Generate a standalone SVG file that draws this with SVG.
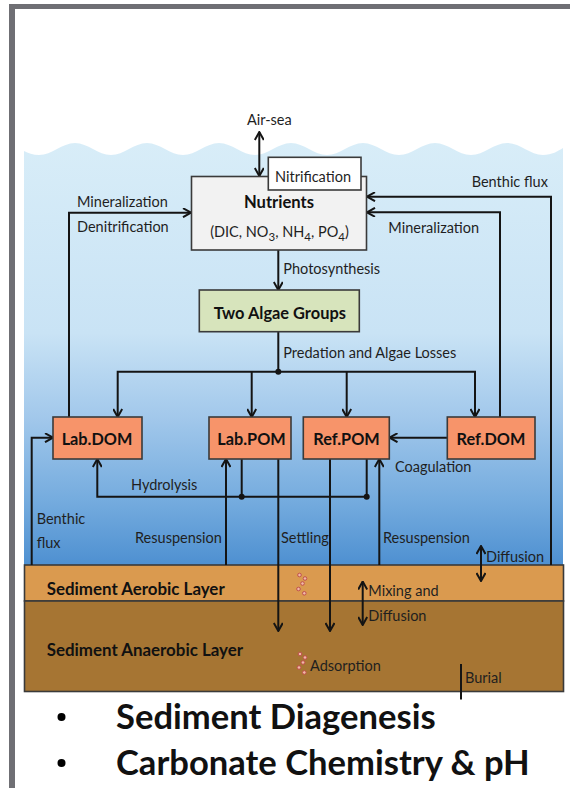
<svg xmlns="http://www.w3.org/2000/svg" width="570" height="788" viewBox="0 0 570 788">
<style>
.lbl{font-family:Lato,"Open Sans","Liberation Sans",sans-serif;font-size:14.5px;fill:#1f1f1f}
.bold{font-family:Lato,"Open Sans","Liberation Sans",sans-serif;font-weight:bold;fill:#111}
.box{stroke:#3a3a3a;stroke-width:1.6}
.pool{fill:#f7946a}
.ln{fill:none;stroke:#141414;stroke-width:2}
.arr{marker-end:url(#ah)}
.dbl{marker-start:url(#ah);marker-end:url(#ah)}
.dot{fill:#141414}
.grain{fill:#f0b8a8;stroke:#c0504d;stroke-width:1}
</style>
<defs>
<linearGradient id="water" gradientUnits="userSpaceOnUse" x1="0" y1="143" x2="0" y2="565">
<stop offset="0" stop-color="#d8edf8"/>
<stop offset="0.45" stop-color="#c9e3f5"/>
<stop offset="0.65" stop-color="#a2c8eb"/>
<stop offset="0.85" stop-color="#74abde"/>
<stop offset="1" stop-color="#4e90d1"/>
</linearGradient>
<marker id="ah" viewBox="0 0 10 10" refX="9" refY="5" markerWidth="10" markerHeight="10" markerUnits="userSpaceOnUse" orient="auto-start-reverse">
<path d="M1,0.5 L9,5 L1,9.5" fill="none" stroke="#141414" stroke-width="2"/>
</marker>
</defs>

<rect x="0" y="0" width="570" height="788" fill="#ffffff"/>
<g id="frame">
<rect x="9" y="4" width="561" height="5" fill="#6f6f74"/>
<rect x="9" y="4" width="6" height="784" fill="#6f6f74"/>
</g>

<g id="water-body">
<path d="M24,151 C28,153 33,155 39,155 C52,155 62,143 75,143 C88,143 98,155 111,155 C124,155 134,143 147,143 C160,143 170,155 183,155 C196,155 206,143 219,143 C232,143 242,155 255,155 C268,155 278,143 291,143 C304,143 314,155 327,155 C340,155 350,143 363,143 C376,143 386,155 399,155 C412,155 422,143 435,143 C448,143 458,155 471,155 C484,155 494,143 507,143 C520,143 530,155 543,155 C552,155 558,151 563,148 L563,565 L24,565 Z" fill="url(#water)"/>
</g>

<g id="sediment-aerobic">
<rect x="24.5" y="565" width="539" height="36" fill="#da9a4f" class="box"/>
<text class="bold" x="46.7" y="595" font-size="16.9">Sediment Aerobic Layer</text>
</g>
<g id="sediment-anaerobic">
<rect x="24.5" y="601" width="539" height="90.5" fill="#a67533" class="box"/>
<text class="bold" x="46.7" y="656" font-size="16.9">Sediment Anaerobic Layer</text>
</g>

<g id="grains">
<circle class="grain" cx="299.5" cy="575" r="1.8"/>
<circle class="grain" cx="305" cy="578.5" r="1.8"/>
<circle class="grain" cx="302.5" cy="583.5" r="1.8"/>
<circle class="grain" cx="298.5" cy="589" r="1.8"/>
<circle class="grain" cx="304.3" cy="593.3" r="1.8"/>
<circle class="grain" cx="300" cy="654" r="1.8"/>
<circle class="grain" cx="305" cy="657.5" r="1.8"/>
<circle class="grain" cx="303" cy="662.5" r="1.8"/>
<circle class="grain" cx="299" cy="667.5" r="1.8"/>
<circle class="grain" cx="304.3" cy="672.5" r="1.8"/>
</g>

<g id="connectors">
<path class="ln dbl" d="M259.3,132 V176"/>
<path class="ln arr" d="M69,417 V212.7 H191"/>
<path class="ln arr" d="M500,417 V212.3 H367"/>
<path class="ln arr" d="M551,565 V196.7 H367"/>
<path class="ln arr" d="M278.3,250 V290"/>
<path class="ln" d="M278.3,331.7 V371.7"/>
<path class="ln dbl" d="M117.7,417 V371.7 H475 V417"/>
<path class="ln arr" d="M251.7,371.7 V417"/>
<path class="ln arr" d="M346.7,371.7 V417"/>
<circle class="dot" cx="278.3" cy="371.7" r="3"/>
<path class="ln arr" d="M447.3,437.7 H389.5"/>
<path class="ln arr" d="M31.7,565 V437.7 H53"/>
<path class="ln" d="M241.7,459 V496.7"/>
<path class="ln" d="M366.7,459 V496.7"/>
<path class="ln arr" d="M366.7,496.7 H97.3 V459"/>
<circle class="dot" cx="241.7" cy="496.7" r="3"/>
<circle class="dot" cx="366.7" cy="496.7" r="3"/>
<path class="ln arr" d="M226,565 V459"/>
<path class="ln arr" d="M278.3,459 V631"/>
<path class="ln arr" d="M330,459 V631"/>
<path class="ln arr" d="M379.3,565 V459"/>
<path class="ln dbl" d="M481,546 V581"/>
<path class="ln dbl" d="M362.7,581.5 V625"/>
<path class="ln" d="M461,664 V699.5"/>
</g>

<g id="nutrients">
<rect x="191.5" y="176.5" width="175" height="73.5" fill="#f2f2f2" class="box"/>
<text class="bold" x="279" y="208.3" font-size="16.6" text-anchor="middle">Nutrients</text>
<text class="lbl" x="279.5" y="236.7" font-size="16.8" text-anchor="middle">(DIC, NO<tspan font-size="11.5" dy="4">3</tspan><tspan dy="-4">, NH</tspan><tspan font-size="11.5" dy="4">4</tspan><tspan dy="-4">, PO</tspan><tspan font-size="11.5" dy="4">4</tspan><tspan dy="-4">)</tspan></text>
</g>
<g id="nitrification">
<rect x="268.3" y="157.3" width="92.7" height="32.7" fill="#ffffff" class="box"/>
<text class="lbl" x="275" y="181.7">Nitrification</text>
</g>
<g id="algae">
<rect x="199.3" y="290" width="160" height="41.7" fill="#d7e4bc" class="box"/>
<text class="bold" x="279.8" y="318.8" font-size="16.4" text-anchor="middle">Two Algae Groups</text>
</g>
<g id="lab-dom">
<rect x="53" y="417" width="89" height="42" class="box pool"/>
<text class="bold" x="97" y="445" font-size="16.3" text-anchor="middle">Lab.DOM</text>
</g>
<g id="lab-pom">
<rect x="209" y="417" width="82" height="42" class="box pool"/>
<text class="bold" x="251.5" y="445" font-size="16.3" text-anchor="middle">Lab.POM</text>
</g>
<g id="ref-pom">
<rect x="303.3" y="417" width="86" height="42" class="box pool"/>
<text class="bold" x="346.5" y="445" font-size="16.3" text-anchor="middle">Ref.POM</text>
</g>
<g id="ref-dom">
<rect x="447.3" y="417" width="87.7" height="42" class="box pool"/>
<text class="bold" x="491" y="445" font-size="16.3" text-anchor="middle">Ref.DOM</text>
</g>

<g id="labels">
<text class="lbl" x="269.3" y="125" text-anchor="middle">Air-sea</text>
<text class="lbl" x="77" y="207.3">Mineralization</text>
<text class="lbl" x="77" y="232.3">Denitrification</text>
<text class="lbl" x="471.7" y="186.7">Benthic flux</text>
<text class="lbl" x="388.3" y="233.3">Mineralization</text>
<text class="lbl" x="283.3" y="274">Photosynthesis</text>
<text class="lbl" x="283.3" y="358.3">Predation and Algae Losses</text>
<text class="lbl" x="395" y="471.7">Coagulation</text>
<text class="lbl" x="131" y="490">Hydrolysis</text>
<text class="lbl" x="36.7" y="524">Benthic</text>
<text class="lbl" x="36.7" y="548">flux</text>
<text class="lbl" x="135" y="542.7">Resuspension</text>
<text class="lbl" x="281" y="542.7">Settling</text>
<text class="lbl" x="383" y="542.7">Resuspension</text>
<text class="lbl" x="486" y="561.7">Diffusion</text>
<text class="lbl" x="368.3" y="596">Mixing and</text>
<text class="lbl" x="368.3" y="621">Diffusion</text>
<text class="lbl" x="310" y="670.7">Adsorption</text>
<text class="lbl" x="465" y="682.7">Burial</text>
</g>

<g id="bullets">
<circle cx="61.5" cy="717" r="4" fill="#000"/>
<circle cx="61.5" cy="763" r="4" fill="#000"/>
<text class="bold" x="116" y="729" font-size="34.6" fill="#000">Sediment Diagenesis</text>
<text class="bold" x="116" y="775" font-size="34.6" fill="#000">Carbonate Chemistry &amp; pH</text>
</g>
</svg>
